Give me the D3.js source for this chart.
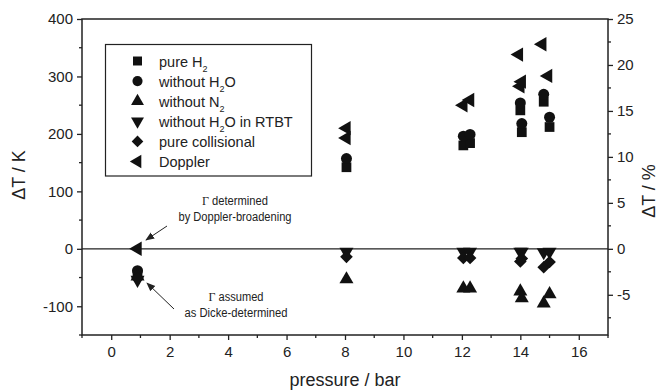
<!DOCTYPE html>
<html>
<head>
<meta charset="utf-8">
<script src="https://cdn.jsdelivr.net/npm/d3@7"></script>
<style>
  body { margin: 0; background: #fff; }
  svg { display: block; font-family: "Liberation Sans", Arial, sans-serif; }
</style>
</head>
<body>
<svg id="chart" width="659" height="392"></svg>
<script>
// temperature deviation vs. pressure, one array pair per evaluation model
const pureH2X = [0.9, 8.05, 12.05, 12.28, 14.0, 14.05, 14.8, 15.0];
const pureH2Y = [-44, 142, 180, 184, 241, 203, 256, 212];

const noH2OX = [0.9, 8.05, 12.05, 12.28, 14.0, 14.05, 14.8, 15.0];
const noH2OY = [-38, 157, 196, 199, 254, 218, 269, 229];

const noN2X = [0.9, 8.05, 12.05, 12.28, 14.0, 14.05, 14.8, 15.0];
const noN2Y = [-48, -53, -69, -69, -74, -86, -95, -79];

const noH2ORtbtX = [0.9, 8.05, 12.05, 12.28, 14.0, 14.05, 14.8, 15.0];
const noH2ORtbtY = [-54, -5, -5, -5, -5, -5, -6, -5];

const collisionalX = [0.9, 8.05, 12.05, 12.28, 14.0, 14.05, 14.8, 15.0];
const collisionalY = [-51, -14, -16, -16, -22, -17, -32, -23];

const dopplerX = [0.9, 8.05, 8.05, 12.05, 12.28, 13.95, 14.0, 14.05, 14.75, 14.95];
const dopplerY = [0, 193, 210, 250, 259, 338, 283, 291, 356, 301];

const xTicks = [0, 2, 4, 6, 8, 10, 12, 14, 16];
const yTicks = [-100, 0, 100, 200, 300, 400];
const y2Ticks = [-5, 0, 5, 10, 15, 20, 25];

// diamonds are squares turned by 45 degrees
const series = [
  { name: ["pure H", "2", ""], x: pureH2X, y: pureH2Y, shape: d3.symbolSquare, size: 95, rot: 0 },
  { name: ["without H", "2", "O"], x: noH2OX, y: noH2OY, shape: d3.symbolCircle, size: 95, rot: 0 },
  { name: ["without N", "2", ""], x: noN2X, y: noN2Y, shape: d3.symbolTriangle, size: 85, rot: 0 },
  { name: ["without H", "2", "O in RTBT"], x: noH2ORtbtX, y: noH2ORtbtY, shape: d3.symbolTriangle, size: 85, rot: 180 },
  { name: ["pure collisional", "", ""], x: collisionalX, y: collisionalY, shape: d3.symbolSquare, size: 80, rot: 45 },
  { name: ["Doppler", "", ""], x: dopplerX, y: dopplerY, shape: d3.symbolTriangle, size: 90, rot: -90 }
];

const svg = d3.select("#chart");
const m = { left: 82, right: 608, top: 19, bottom: 335 };

const x = d3.scaleLinear().domain([-1, 17]).range([m.left, m.right]);
const y = d3.scaleLinear().domain([-150, 400]).range([m.bottom, m.top]);
// right axis is the same deviation in percent of 1600 K
const y2 = d3.scaleLinear().domain([-150 / 16, 400 / 16]).range([m.bottom, m.top]);

const minor = (a, b, step) => d3.range(a, b + 1e-9, step);
const fmt = d => String(d); // plain hyphen for negatives

// bottom axis
const gx = svg.append("g").attr("transform", `translate(0,${m.bottom})`);
gx.call(d3.axisBottom(x).tickValues(xTicks).tickFormat(fmt).tickSize(5).tickPadding(6));
gx.selectAll(".minor").data(minor(-1, 17, 2)).enter().append("line")
  .attr("x1", d => x(d)).attr("x2", d => x(d)).attr("y1", 0).attr("y2", 3);

// left axis
const gy = svg.append("g").attr("transform", `translate(${m.left},0)`);
gy.call(d3.axisLeft(y).tickValues(yTicks).tickFormat(fmt).tickSize(5).tickPadding(4));
gy.selectAll(".minor").data(minor(-150, 350, 100)).enter().append("line")
  .attr("y1", d => y(d)).attr("y2", d => y(d)).attr("x1", 0).attr("x2", -3);

// right axis
const gy2 = svg.append("g").attr("transform", `translate(${m.right},0)`);
gy2.call(d3.axisRight(y2).tickValues(y2Ticks).tickFormat(fmt).tickSize(5).tickPadding(4));
gy2.selectAll(".minor").data(minor(-7.5, 22.5, 5)).enter().append("line")
  .attr("y1", d => y2(d)).attr("y2", d => y2(d)).attr("x1", 0).attr("x2", 3);

svg.selectAll(".domain").remove();
svg.selectAll("g line").attr("stroke", "#222").attr("stroke-width", 1.3);
svg.selectAll(".tick text").attr("font-size", 15).attr("fill", "#222")
  .attr("font-family", "Liberation Sans, Arial, sans-serif");

// frame and zero line
svg.append("rect")
  .attr("x", m.left).attr("y", m.top)
  .attr("width", m.right - m.left).attr("height", m.bottom - m.top)
  .attr("fill", "none").attr("stroke", "#222").attr("stroke-width", 1.5);
svg.append("line")
  .attr("x1", m.left).attr("x2", m.right).attr("y1", y(0)).attr("y2", y(0))
  .attr("stroke", "#222").attr("stroke-width", 1.3);

// axis titles
svg.append("text").attr("transform", `translate(25,175) rotate(-90)`)
  .attr("text-anchor", "middle").attr("font-size", 18).attr("fill", "#222").text("ΔT / K");
svg.append("text").attr("transform", `translate(655,191) rotate(-90)`)
  .attr("text-anchor", "middle").attr("font-size", 18).attr("fill", "#222").text("ΔT / %");
svg.append("text").attr("x", (m.left + m.right) / 2).attr("y", 386)
  .attr("text-anchor", "middle").attr("font-size", 18).attr("fill", "#222").text("pressure / bar");

// data points
series.forEach(s => {
  const sym = d3.symbol().type(s.shape).size(s.size);
  svg.append("g").selectAll("path")
    .data(d3.zip(s.x, s.y)).enter().append("path")
    .attr("d", sym)
    .attr("transform", d => `translate(${x(d[0])},${y(d[1])}) rotate(${s.rot})`)
    .attr("fill", "#111");
});

// legend
const lg = svg.append("g");
lg.append("rect").attr("x", 105.5).attr("y", 44.5).attr("width", 206).attr("height", 131.5)
  .attr("fill", "#fff").attr("stroke", "#222").attr("stroke-width", 1.2);
series.forEach((s, i) => {
  const cy = 61 + i * 20.1;
  lg.append("path").attr("d", d3.symbol().type(s.shape).size(s.size * 0.85)())
    .attr("transform", `translate(137.5,${cy}) rotate(${s.rot})`).attr("fill", "#111");
  const t = lg.append("text").attr("x", 159).attr("y", cy + 5.5)
    .attr("font-size", 14.5).attr("fill", "#222");
  t.append("tspan").text(s.name[0]);
  if (s.name[1]) {
    t.append("tspan").attr("font-size", 9).attr("dy", 5).text(s.name[1]);
    t.append("tspan").attr("dy", -5).text(s.name[2]);
  }
});

// annotations with arrows
svg.append("defs").append("marker")
  .attr("id", "head").attr("viewBox", "0 0 10 10").attr("refX", 9).attr("refY", 5)
  .attr("markerWidth", 9).attr("markerHeight", 9).attr("markerUnits", "userSpaceOnUse")
  .attr("orient", "auto")
  .append("path").attr("d", "M0,1 L10,5 L0,9 Z").attr("fill", "#222");

function note(cx, cy, line1, line2, w1, w2) {
  const t = svg.append("text").attr("x", cx).attr("y", cy)
    .attr("text-anchor", "middle").attr("font-size", 12).attr("fill", "#222")
    .attr("textLength", w1).attr("lengthAdjust", "spacingAndGlyphs");
  t.append("tspan").attr("font-family", "Liberation Serif, Times, serif").attr("font-size", 13).text("Γ");
  t.append("tspan").text(" " + line1);
  svg.append("text").attr("x", cx).attr("y", cy + 16)
    .attr("text-anchor", "middle").attr("font-size", 12).attr("fill", "#222")
    .attr("textLength", w2).attr("lengthAdjust", "spacingAndGlyphs").text(line2);
}
note(235, 205, "determined", "by Doppler-broadening", 66, 113);
note(236, 301, "assumed", "as Dicke-determined", 55, 103);

svg.append("line").attr("x1", 167).attr("y1", 226).attr("x2", 146).attr("y2", 240)
  .attr("stroke", "#222").attr("stroke-width", 1).attr("marker-end", "url(#head)");
svg.append("line").attr("x1", 174).attr("y1", 309).attr("x2", 147).attr("y2", 283)
  .attr("stroke", "#222").attr("stroke-width", 1).attr("marker-end", "url(#head)");
</script>
</body>
</html>
